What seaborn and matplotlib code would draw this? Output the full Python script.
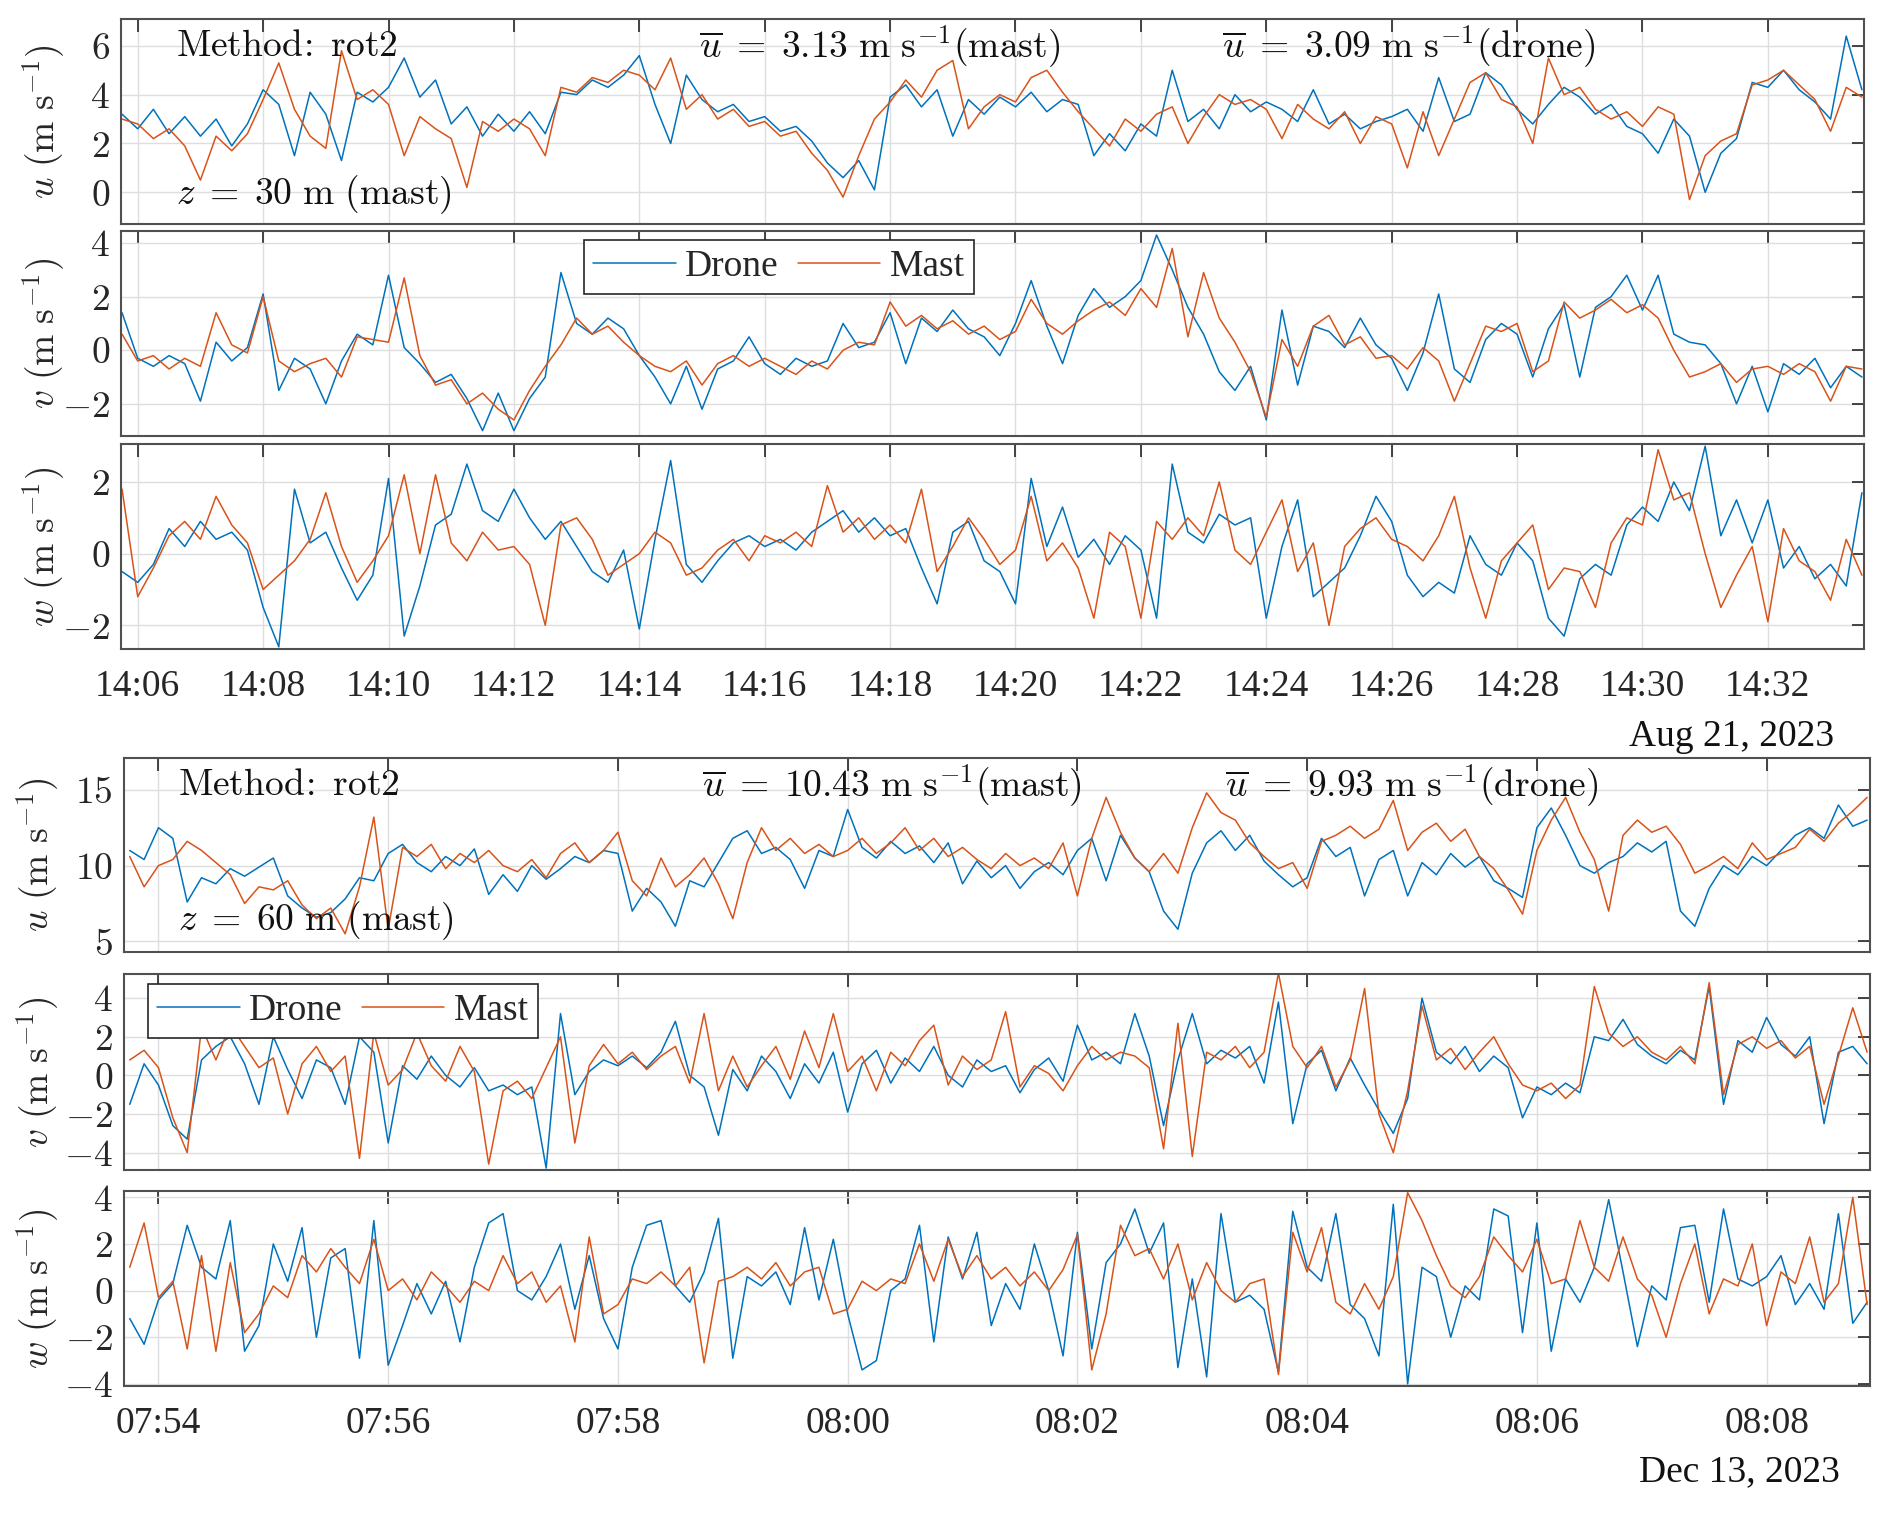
import numpy as np
import pandas as pd
import matplotlib
matplotlib.use('Agg')
import matplotlib.pyplot as plt
import matplotlib.dates as mdates
from matplotlib.ticker import FuncFormatter
import seaborn as sns

# ---- data (top: Aug 21 2023, 15 s steps; bottom: Dec 13 2023, 7.5 s steps)
t_top = pd.date_range('2023-08-21 14:05:45', periods=112, freq='15s')
t_bot = pd.date_range('2023-12-13 07:53:45', periods=122, freq='7500ms')

u_top_drone = [3.2,
    2.6, 3.4, 2.4, 3.1,  2.3, 3.0, 1.9, 2.8,  4.2, 3.6, 1.5, 4.1,  3.2, 1.3, 4.1, 3.7,
    4.3, 5.5, 3.9, 4.6,  2.8, 3.5, 2.3, 3.2,  2.5, 3.3, 2.4, 4.1,  4.0, 4.6, 4.3, 4.8,
    5.6, 3.6, 2.0, 4.8,  3.8, 3.3, 3.6, 2.9,  3.1, 2.5, 2.7, 2.1,  1.2, 0.6, 1.3, 0.1,
    3.9, 4.4, 3.5, 4.2,  2.3, 3.8, 3.2, 3.9,  3.5, 4.1, 3.3, 3.8,  3.6, 1.5, 2.4, 1.7,
    2.8, 2.3, 5.0, 2.9,  3.4, 2.6, 4.0, 3.3,  3.7, 3.4, 2.9, 4.2,  2.8, 3.2, 2.6, 2.9,
    3.1, 3.4, 2.5, 4.7,  2.9, 3.2, 4.9, 4.4,  3.4, 2.8, 3.6, 4.3,  3.9, 3.2, 3.6, 2.7,
    2.4, 1.6, 3.0, 2.3,  0.0, 1.6, 2.2, 4.5,  4.3, 5.0, 4.2, 3.7,  3.0, 6.4, 4.2]
u_top_mast = [3.0,
    2.8, 2.2, 2.6, 1.9,  0.5, 2.3, 1.7, 2.4,  3.8, 5.3, 3.4, 2.3,  1.8, 5.8, 3.8, 4.2,
    3.6, 1.5, 3.1, 2.6,  2.2, 0.2, 2.9, 2.5,  3.0, 2.6, 1.5, 4.3,  4.1, 4.7, 4.5, 5.0,
    4.8, 4.2, 5.5, 3.4,  4.0, 3.0, 3.4, 2.7,  2.9, 2.3, 2.5, 1.6,  0.9, -0.2, 1.5, 3.0,
    3.7, 4.6, 3.9, 5.0,  5.4, 2.6, 3.5, 4.0,  3.7, 4.7, 5.0, 4.1,  3.3, 2.6, 1.9, 3.0,
    2.5, 3.2, 3.5, 2.0,  3.1, 4.0, 3.6, 3.8,  3.4, 2.2, 3.6, 3.0,  2.6, 3.3, 2.0, 3.1,
    2.8, 1.0, 3.3, 1.5,  3.0, 4.5, 4.9, 3.8,  3.5, 2.0, 5.5, 4.0,  4.3, 3.4, 3.0, 3.3,
    2.7, 3.5, 3.2, -0.3,  1.5, 2.1, 2.4, 4.4,  4.6, 5.0, 4.4, 3.8,  2.5, 4.3, 3.9]

v_top_drone = [1.4,
    -0.3, -0.6, -0.2, -0.5,  -1.9, 0.3, -0.4, 0.1,  2.1, -1.5, -0.3, -0.7,  -2.0, -0.4, 0.6, 0.2,
    2.8, 0.1, -0.5, -1.2,  -0.9, -1.8, -3.0, -1.6,  -3.0, -1.8, -1.0, 2.9,  1.0, 0.6, 1.2, 0.8,
    -0.2, -1.0, -2.0, -0.6,  -2.2, -0.7, -0.4, 0.5,  -0.5, -0.9, -0.3, -0.6,  -0.4, 1.0, 0.1, 0.3,
    1.4, -0.5, 1.2, 0.7,  1.5, 0.8, 0.5, -0.2,  1.0, 2.6, 0.9, -0.5,  1.3, 2.3, 1.6, 2.0,
    2.6, 4.3, 3.0, 1.6,  0.6, -0.8, -1.5, -0.6,  -2.6, 1.5, -1.3, 0.9,  0.7, 0.1, 1.2, 0.2,
    -0.3, -1.5, -0.1, 2.1,  -0.7, -1.2, 0.4, 1.0,  0.6, -1.0, 0.8, 1.7,  -1.0, 1.6, 2.0, 2.8,
    1.5, 2.8, 0.6, 0.3,  0.2, -0.5, -2.0, -0.6,  -2.3, -0.5, -0.9, -0.3,  -1.4, -0.6, -1.0]
v_top_mast = [0.6,
    -0.4, -0.2, -0.7, -0.3,  -0.6, 1.4, 0.2, -0.1,  2.0, -0.4, -0.8, -0.5,  -0.3, -1.0, 0.5, 0.4,
    0.3, 2.7, -0.2, -1.3,  -1.1, -2.0, -1.6, -2.2,  -2.6, -1.5, -0.6, 0.2,  1.2, 0.6, 0.9, 0.3,
    -0.2, -0.6, -0.8, -0.4,  -1.3, -0.5, -0.2, -0.6,  -0.3, -0.6, -0.9, -0.4,  -0.7, 0.0, 0.3, 0.2,
    1.8, 0.9, 1.3, 0.8,  1.1, 0.6, 0.9, 0.4,  0.7, 1.9, 1.0, 0.6,  1.1, 1.5, 1.8, 1.3,
    2.3, 1.6, 3.8, 0.5,  2.9, 1.2, 0.3, -0.8,  -2.5, 0.4, -0.6, 0.9,  1.3, 0.2, 0.5, -0.3,
    -0.2, -0.7, 0.1, -0.4,  -1.9, -0.5, 0.9, 0.7,  1.0, -0.8, -0.4, 1.8,  1.2, 1.5, 1.9, 1.4,
    1.7, 1.2, 0.0, -1.0,  -0.8, -0.5, -1.2, -0.7,  -0.6, -0.9, -0.5, -0.8,  -1.9, -0.6, -0.7]

w_top_drone = [-0.5,
    -0.8, -0.3, 0.7, 0.2,  0.9, 0.4, 0.6, 0.1,  -1.5, -2.6, 1.8, 0.3,  0.6, -0.4, -1.3, -0.6,
    2.1, -2.3, -0.9, 0.8,  1.1, 2.5, 1.2, 0.9,  1.8, 1.0, 0.4, 0.9,  0.2, -0.5, -0.8, 0.1,
    -2.1, 0.4, 2.6, -0.3,  -0.8, -0.2, 0.3, 0.5,  0.2, 0.4, 0.1, 0.6,  0.9, 1.2, 0.6, 1.0,
    0.5, 0.7, -0.4, -1.4,  0.6, 0.9, -0.2, -0.5,  -1.4, 2.1, 0.2, 1.3,  -0.1, 0.4, -0.3, 0.5,
    0.1, -1.8, 2.5, 0.6,  0.3, 1.1, 0.8, 1.0,  -1.8, 0.2, 1.5, -1.2,  -0.8, -0.4, 0.5, 1.6,
    0.9, -0.6, -1.2, -0.8,  -1.1, 0.5, -0.3, -0.6,  0.3, -0.2, -1.8, -2.3,  -0.7, -0.3, -0.6, 0.8,
    1.3, 0.9, 2.0, 1.2,  3.0, 0.5, 1.5, 0.3,  1.5, -0.4, 0.2, -0.7,  -0.3, -0.9, 1.7]
w_top_mast = [1.8,
    -1.2, -0.4, 0.5, 0.9,  0.4, 1.6, 0.8, 0.3,  -1.0, -0.6, -0.2, 0.4,  1.7, 0.2, -0.8, -0.2,
    0.5, 2.2, 0.0, 2.2,  0.3, -0.2, 0.6, 0.1,  0.2, -0.3, -2.0, 0.8,  1.0, 0.4, -0.6, -0.3,
    0.0, 0.6, 0.3, -0.6,  -0.4, 0.1, 0.4, -0.2,  0.5, 0.3, 0.6, 0.2,  1.9, 0.6, 1.0, 0.4,
    0.8, 0.3, 1.8, -0.5,  0.2, 1.0, 0.4, -0.3,  0.1, 1.6, -0.2, 0.3,  -0.4, -1.8, 0.6, 0.2,
    -1.8, 0.9, 0.4, 1.0,  0.5, 2.0, 0.1, -0.3,  0.6, 1.5, -0.5, 0.3,  -2.0, 0.2, 0.7, 1.0,
    0.4, 0.2, -0.2, 0.5,  1.6, -0.4, -1.8, -0.2,  0.3, 0.8, -1.0, -0.4,  -0.5, -1.5, 0.3, 1.0,
    0.8, 2.9, 1.5, 1.7,  0.0, -1.5, -0.6, 0.2,  -1.9, 0.7, -0.2, -0.5,  -1.3, 0.4, -0.6]

u_bot_drone = [11.0, 10.4,
    12.5, 11.8, 7.6, 9.2, 8.8, 9.8, 9.3, 9.9,
    10.5, 8.0, 7.2, 6.6, 6.9, 7.8, 9.2, 9.0,
    10.8, 11.4, 10.2, 9.6, 10.6, 10.0, 11.1, 8.1,
    9.4, 8.3, 10.0, 9.1, 9.8, 10.6, 10.2, 11.0,
    10.8, 7.0, 8.5, 7.6, 6.0, 9.0, 8.6, 10.2,
    11.8, 12.3, 10.8, 11.2, 10.4, 8.5, 11.0, 10.6,
    13.7, 11.2, 10.5, 11.6, 10.8, 11.3, 10.2, 11.5,
    8.8, 10.3, 9.2, 10.0, 8.5, 9.6, 10.2, 9.4,
    11.0, 11.8, 9.0, 12.0, 10.5, 9.6, 7.0, 5.8,
    9.5, 11.5, 12.3, 11.0, 12.0, 10.3, 9.4, 8.6,
    9.2, 11.8, 10.6, 11.2, 8.0, 10.4, 11.0, 8.0,
    10.2, 9.4, 10.8, 9.9, 10.6, 9.0, 8.5, 7.9,
    12.5, 13.8, 12.0, 10.0, 9.5, 10.2, 10.6, 11.5,
    10.9, 11.6, 7.0, 6.0, 8.5, 10.0, 9.4, 10.6,
    10.0, 11.0, 12.0, 12.5, 11.8, 14.0, 12.6, 13.0]
u_bot_mast = [10.6, 8.6,
    10.0, 10.4, 11.6, 11.0, 10.2, 9.4, 7.5, 8.6,
    8.4, 9.0, 7.4, 6.5, 7.2, 5.5, 8.6, 13.2,
    5.8, 11.2, 10.6, 11.4, 9.8, 10.8, 10.2, 11.0,
    10.0, 9.6, 10.4, 9.2, 10.8, 11.5, 10.2, 11.0,
    12.2, 9.0, 8.0, 10.5, 8.6, 9.4, 10.5, 8.8,
    6.5, 10.2, 12.5, 11.0, 11.8, 10.8, 11.4, 10.6,
    11.0, 11.8, 10.8, 11.5, 12.5, 11.0, 11.8, 10.6,
    11.2, 10.4, 9.8, 10.8, 10.0, 10.5, 9.8, 11.5,
    8.0, 11.8, 14.5, 12.2, 10.5, 9.6, 10.8, 9.5,
    12.5, 14.8, 13.5, 13.0, 11.5, 10.6, 9.8, 10.2,
    8.5, 11.6, 12.0, 12.6, 11.8, 12.4, 14.3, 11.0,
    12.2, 12.8, 11.6, 12.4, 10.6, 9.8, 8.4, 6.8,
    11.0, 13.0, 14.5, 12.2, 10.4, 7.0, 12.0, 13.0,
    12.2, 12.6, 11.4, 9.5, 10.0, 10.6, 9.8, 11.5,
    10.4, 10.8, 11.2, 12.4, 11.6, 12.8, 13.6, 14.5]

v_bot_drone = [-1.5, 0.6,
    -0.5, -2.6, -3.3, 0.8, 1.5, 2.0, 0.6, -1.5,
    2.0, 0.3, -1.2, 0.8, 0.4, -1.5, 2.0, 1.2,
    -3.5, 0.5, -0.2, 1.0, 0.0, -0.6, 0.4, -0.8,
    -0.5, -1.0, -0.6, -4.8, 3.2, -1.0, 0.2, 0.8,
    0.5, 1.0, 0.4, 1.2, 2.8, 0.0, -0.6, -3.1,
    0.3, -0.8, 1.0, 0.2, -1.2, 0.6, -0.4, 1.2,
    -1.9, 0.6, 1.3, -0.4, 0.9, 0.2, 1.5, 0.0,
    -0.6, 0.8, 0.2, 0.5, -0.9, 0.3, 0.9, -0.3,
    2.6, 0.8, 1.2, 0.6, 3.2, 1.0, -2.6, 0.8,
    3.2, 0.6, 1.3, 0.9, 1.5, -0.4, 3.8, -2.5,
    0.6, 1.3, -0.8, 0.9, -0.5, -1.8, -3.0, -1.2,
    4.0, 1.2, 0.6, 1.5, 0.2, 1.0, 0.4, -2.2,
    -0.6, -1.0, -0.4, -0.9, 2.0, 1.8, 2.9, 1.6,
    1.0, 0.6, 1.3, 0.8, 4.6, -1.5, 1.8, 1.2,
    3.0, 1.6, 1.0, 2.0, -2.5, 1.2, 1.5, 0.6]
v_bot_mast = [0.8, 1.3,
    0.4, -2.2, -4.0, 2.5, 0.8, 2.6, 1.5, 0.4,
    0.9, -2.0, 0.6, 1.5, 0.2, 1.0, -4.3, 2.2,
    -0.5, 0.3, 2.2, 0.5, -0.3, 1.5, 0.2, -4.6,
    -0.8, -0.3, -1.2, 0.4, 2.0, -3.5, 0.5, 1.6,
    0.6, 1.2, 0.3, 1.0, 1.5, -0.4, 3.2, -0.8,
    1.0, -0.6, 0.5, 1.5, -0.2, 2.3, 0.4, 3.2,
    0.2, 1.0, -0.8, 1.2, 0.5, 1.8, 2.6, -0.5,
    1.0, 0.3, 0.8, 3.3, -0.6, 0.5, 0.1, -0.8,
    0.5, 1.5, 0.8, 1.2, 1.0, 0.4, -3.8, 2.7,
    -4.2, 1.2, 0.8, 1.5, 0.4, 1.2, 5.3, 1.5,
    0.4, 1.5, -0.6, 0.8, 4.5, -2.0, -4.0, -0.8,
    3.6, 0.8, 1.4, 0.3, 1.2, 2.0, 0.6, -0.5,
    -0.8, -0.4, -1.2, -0.5, 4.6, 2.2, 1.5, 2.0,
    1.2, 0.8, 1.5, 0.6, 4.8, -1.0, 1.6, 2.0,
    1.4, 1.8, 0.9, 1.5, -1.5, 1.0, 3.5, 1.2]

w_bot_drone = [-1.2, -2.3,
    -0.4, 0.3, 2.8, 1.0, 0.5, 3.0, -2.6, -1.5,
    2.0, 0.4, 2.7, -2.0, 1.4, 1.8, -2.9, 3.0,
    -3.2, -1.5, 0.3, -1.0, 0.4, -2.2, 1.0, 2.9,
    3.3, 0.0, -0.4, 0.6, 2.0, -0.8, 1.5, -1.2,
    -2.5, 1.0, 2.8, 3.0, 0.2, -0.5, 0.8, 3.1,
    -2.9, 0.6, 0.2, 0.8, -0.6, 2.7, -0.4, 2.2,
    -1.0, -3.4, -3.0, 0.0, 0.5, 2.8, -2.2, 2.3,
    0.5, 2.5, -1.5, 0.3, -0.8, 2.0, 0.0, -2.8,
    2.5, -2.5, 1.2, 2.0, 3.5, 1.6, 2.9, -3.3,
    0.5, -3.7, 3.3, -0.5, -0.2, -0.8, -3.5, 3.4,
    1.0, 0.4, 3.3, -0.6, -1.2, -2.8, 3.7, -4.0,
    1.0, 0.6, -2.0, 0.2, -0.4, 3.5, 3.2, -1.8,
    2.9, -2.6, 0.5, -0.5, 1.0, 3.9, 0.8, -2.4,
    0.2, -0.4, 2.7, 2.8, -0.5, 3.5, 0.5, 0.2,
    0.6, 1.5, -0.6, 0.3, -0.8, 3.3, -1.4, -0.5]
w_bot_mast = [1.0, 2.9,
    -0.3, 0.4, -2.5, 1.5, -2.6, 1.2, -1.8, -1.0,
    0.2, -0.3, 1.5, 0.8, 1.8, 1.0, 0.3, 2.2,
    0.0, 0.5, -0.4, 0.8, 0.2, -0.5, 0.4, 0.0,
    1.5, 0.3, 0.8, -0.5, 0.2, -2.2, 2.3, -1.0,
    -0.6, 0.5, 0.3, 0.8, 0.2, 1.0, -3.1, 0.4,
    0.6, 1.0, 0.5, 1.2, 0.2, 0.8, 1.0, -1.0,
    -0.8, 0.4, 0.0, 0.5, 0.3, 2.0, 0.4, 2.2,
    0.6, 1.5, 0.5, 1.0, 0.2, 0.8, 0.0, 0.9,
    2.4, -3.4, -1.0, 2.8, 1.5, 1.8, 0.5, 2.0,
    -0.4, 1.2, 0.0, -0.5, 0.3, 0.5, -3.6, 2.5,
    0.8, 2.7, -0.5, -1.0, 0.3, -0.8, 0.6, 4.2,
    3.0, 1.5, 0.2, -0.3, 0.6, 2.3, 1.5, 0.8,
    2.2, 0.3, 0.5, 3.0, 1.0, 0.4, 2.3, 0.5,
    -0.2, -2.0, 0.3, 2.0, -1.0, 0.5, 0.2, 2.0,
    -1.5, 0.8, 0.3, 2.3, -0.5, 0.3, 4.0, -0.6]

# ---- style
sns.set_theme(style='white')
plt.rcParams['font.family'] = ['Liberation Serif', 'DejaVu Serif']
plt.rcParams['mathtext.fontset'] = 'cm'

blue = '#0072BD'
orange = '#D95319'
fs = 27

fig = plt.figure(figsize=(18.92, 15.13), dpi=100)

def make_ax(rect, t, drone, mast, ylim, yticks, xlim, ylab, labx, show_x, legend_xy=None):
    ax = fig.add_axes(rect)
    sns.lineplot(x=t, y=drone, ax=ax, color=blue, linewidth=1.1, label='Drone', legend=False)
    sns.lineplot(x=t, y=mast, ax=ax, color=orange, linewidth=1.1, label='Mast', legend=False)
    ax.set_xlim(pd.Timestamp(xlim[0]), pd.Timestamp(xlim[1]))
    ax.set_ylim(*ylim)
    ax.set_yticks(yticks)
    ax.yaxis.set_major_formatter(FuncFormatter(lambda v, p: '$%g$' % v))
    ax.xaxis.set_major_locator(mdates.MinuteLocator(byminute=range(0, 60, 2)))
    ax.xaxis.set_major_formatter(mdates.DateFormatter('%H:%M'))
    ax.grid(True, color='#dedede', linewidth=1.0)
    ax.tick_params(direction='in', top=True, right=True, length=9, width=1.2,
                   labelsize=fs, colors='#262626', pad=8)
    ax.tick_params(axis='x', pad=15)
    if not show_x:
        ax.tick_params(axis='x', labelbottom=False)
    for s in ax.spines.values():
        s.set_color('#505050')
        s.set_linewidth(1.5)
    ax.set_xlabel('')
    ax.set_ylabel(ylab, fontsize=fs, color='#262626')
    ax.yaxis.set_label_coords(labx, 0.5)
    if legend_xy is not None:
        leg = ax.legend(loc='center', bbox_to_anchor=legend_xy, bbox_transform=fig.transFigure,
                        ncol=2, fontsize=fs, frameon=True, fancybox=False, framealpha=1,
                        edgecolor='#262626', handlelength=2.2, handletextpad=0.25,
                        columnspacing=0.5, borderpad=0.25, borderaxespad=0)
        leg.get_frame().set_linewidth(1.2)
    return ax

ulab = r'$u\ (\mathrm{m\ s^{-1}})$'
vlab = r'$v\ (\mathrm{m\ s^{-1}})$'
wlab = r'$w\ (\mathrm{m\ s^{-1}})$'

xl_top = ('2023-08-21 14:05:44', '2023-08-21 14:33:32')
xl_bot = ('2023-12-13 07:53:42', '2023-12-13 08:08:54')

W, H = 1892.0, 1513.0

def rect(l, r, t, b):
    return [l / W, 1 - b / H, (r - l) / W, (b - t) / H]

make_ax(rect(121, 1864, 19, 224), t_top, u_top_drone, u_top_mast, (-1.3, 7.1), [0, 2, 4, 6],
        xl_top, ulab, -0.031, False)
make_ax(rect(121, 1864, 231, 436), t_top, v_top_drone, v_top_mast, (-3.2, 4.45), [-2, 0, 2, 4],
        xl_top, vlab, -0.031, False, legend_xy=(779 / W, 1 - 267 / H))
make_ax(rect(121, 1864, 444, 649), t_top, w_top_drone, w_top_mast, (-2.66, 3.06), [-2, 0, 2],
        xl_top, wlab, -0.031, True)

make_ax(rect(124, 1870, 758, 952), t_bot, u_bot_drone, u_bot_mast, (4.3, 17.1), [5, 10, 15],
        xl_bot, ulab, -0.036, False)
make_ax(rect(124, 1870, 974, 1170), t_bot, v_bot_drone, v_bot_mast, (-4.9, 5.25), [-4, -2, 0, 2, 4],
        xl_bot, vlab, -0.036, False, legend_xy=(343 / W, 1 - 1011 / H))
make_ax(rect(124, 1870, 1191, 1386), t_bot, w_bot_drone, w_bot_mast, (-4.09, 4.27), [-4, -2, 0, 2, 4],
        xl_bot, wlab, -0.036, True)

# annotations
txt = dict(fontsize=fs, color='#111111', ha='left', va='center')
fig.text(176 / W, 1 - 47 / H, r'$\mathrm{Method\!:\ rot2}$', **txt)
fig.text(699 / W, 1 - 47 / H, r'$\overline{u}\;=\;3.13\ \mathrm{m\ s^{-1}(mast)}$', **txt)
fig.text(1222 / W, 1 - 47 / H, r'$\overline{u}\;=\;3.09\ \mathrm{m\ s^{-1}(drone)}$', **txt)
fig.text(176 / W, 1 - 195 / H, r'$z\;=\;30\ \mathrm{m\ (mast)}$', **txt)

fig.text(178 / W, 1 - 786 / H, r'$\mathrm{Method\!:\ rot2}$', **txt)
fig.text(702 / W, 1 - 786 / H, r'$\overline{u}\;=\;10.43\ \mathrm{m\ s^{-1}(mast)}$', **txt)
fig.text(1225 / W, 1 - 786 / H, r'$\overline{u}\;=\;9.93\ \mathrm{m\ s^{-1}(drone)}$', **txt)
fig.text(178 / W, 1 - 921 / H, r'$z\;=\;60\ \mathrm{m\ (mast)}$', **txt)

fig.text(1834 / W, 1 - 737 / H, 'Aug 21, 2023', fontsize=fs, color='#111111', ha='right', va='center')
fig.text(1840 / W, 1 - 1472 / H, 'Dec 13, 2023', fontsize=fs, color='#111111', ha='right', va='center')

fig.savefig('out.png', dpi=100, facecolor='white')
